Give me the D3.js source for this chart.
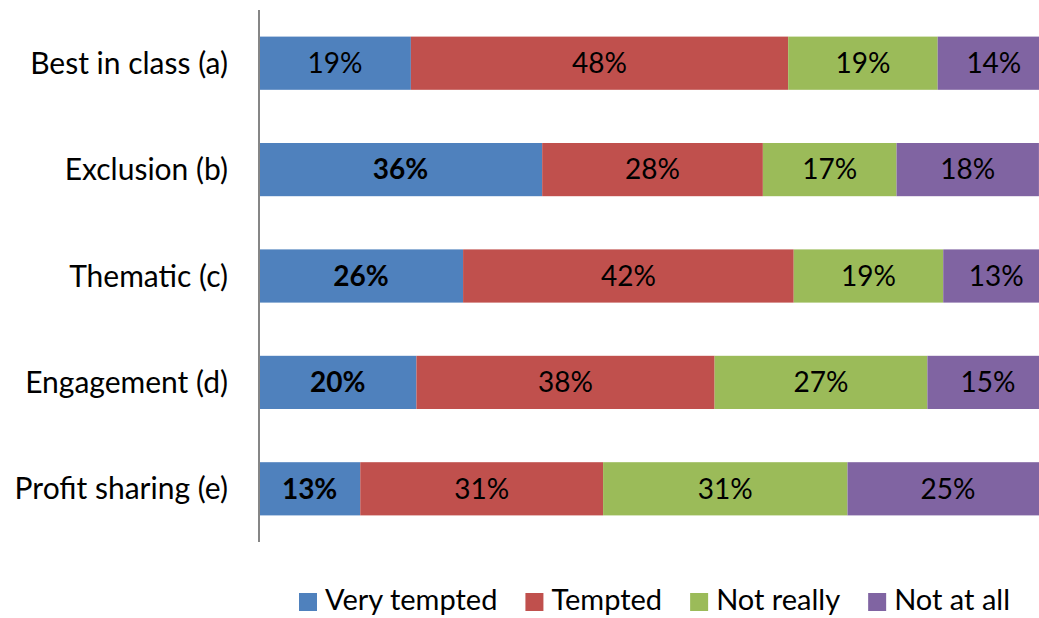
<!DOCTYPE html>
<html>
<head>
<meta charset="utf-8">
<script src="https://cdn.jsdelivr.net/npm/d3@7"></script>
<style>
  body { margin: 0; background: #fff; }
  text { font-family: Lato, "Open Sans", sans-serif; fill: #000; }
</style>
</head>
<body>
<svg id="chart" width="1039" height="618"></svg>
<script>
// categories, top to bottom
let categories = ['Best in class (a)', 'Exclusion (b)', 'Thematic (c)', 'Engagement (d)', 'Profit sharing (e)']
let seriesNames = ['Very tempted', 'Tempted', 'Not really', 'Not at all']
let seriesColors = ['#4F81BD', '#C0504D', '#9BBB59', '#8064A2']

// shares in %, one array per series (same order as categories)
let veryTempted = [19.2, 35.8, 25.8, 19.9, 12.8]
let tempted     = [47.7, 27.9, 41.8, 37.7, 30.7]
let notReally   = [18.9, 16.9, 18.9, 26.9, 30.9]
let notAtAll    = [14.2, 18.0, 13.4, 15.3, 25.4]

let seriesValues = [veryTempted, tempted, notReally, notAtAll]

let svg = d3.select('#chart')
let plotLeft = 259, plotRight = 1050, plotTop = 10, plotBottom = 542

let x = d3.scaleLinear().domain([0, 100]).range([plotLeft, plotRight])
let y = d3.scaleBand().domain(categories).range([plotTop, plotBottom]).paddingInner(0.5).paddingOuter(0.25)

// build stacked rows
let rows = categories.map(function (c, i) {
    let acc = 0
    return seriesValues.map(function (vals, s) {
        let seg = { cat: c, row: i, series: s, x0: acc, x1: acc + vals[i], v: vals[i] }
        acc += vals[i]
        return seg
    })
})
let segs = rows.flat()

svg.selectAll('.bar')
    .data(segs)
    .enter().append('rect')
    .attr('class', 'bar')
    .attr('x', d => x(d.x0))
    .attr('y', d => y(d.cat))
    .attr('width', d => x(d.x1) - x(d.x0))
    .attr('height', y.bandwidth())
    .attr('fill', d => seriesColors[d.series])

svg.selectAll('.val')
    .data(segs)
    .enter().append('text')
    .attr('class', 'val')
    .attr('x', d => (x(d.x0) + x(d.x1)) / 2)
    .attr('y', d => y(d.cat) + y.bandwidth() / 2)
    .attr('dy', '0.35em')
    .attr('text-anchor', 'middle')
    .attr('font-size', 28)
    .attr('font-weight', d => (d.series == 0 && d.row > 0) ? 'bold' : 'normal')
    .text(d => Math.round(d.v) + '%')

// category axis
let yAxis = svg.append('g')
    .attr('transform', 'translate(' + plotLeft + ',0)')
    .call(d3.axisLeft(y).tickSize(0).tickPadding(31))
yAxis.select('.domain').attr('stroke', '#868686').attr('stroke-width', 2)
    .attr('d', 'M0,' + plotTop + 'V' + plotBottom)
yAxis.selectAll('text').attr('font-size', 30).attr('font-family', 'Lato, "Open Sans", sans-serif')
    .attr('dy', '0.35em')

// legend
let legend = svg.append('g').attr('class', 'legend')
let lx = 299
seriesNames.forEach(function (name, i) {
    let g = legend.append('g').attr('transform', 'translate(' + lx + ',600)')
    g.append('rect').attr('x', 0).attr('y', -7).attr('width', 18).attr('height', 18)
        .attr('fill', seriesColors[i])
    let t = g.append('text').attr('x', 26).attr('dy', '0.35em').attr('font-size', 29).text(name)
    lx += 26 + t.node().getComputedTextLength() + 28
})
</script>
</body>
</html>
